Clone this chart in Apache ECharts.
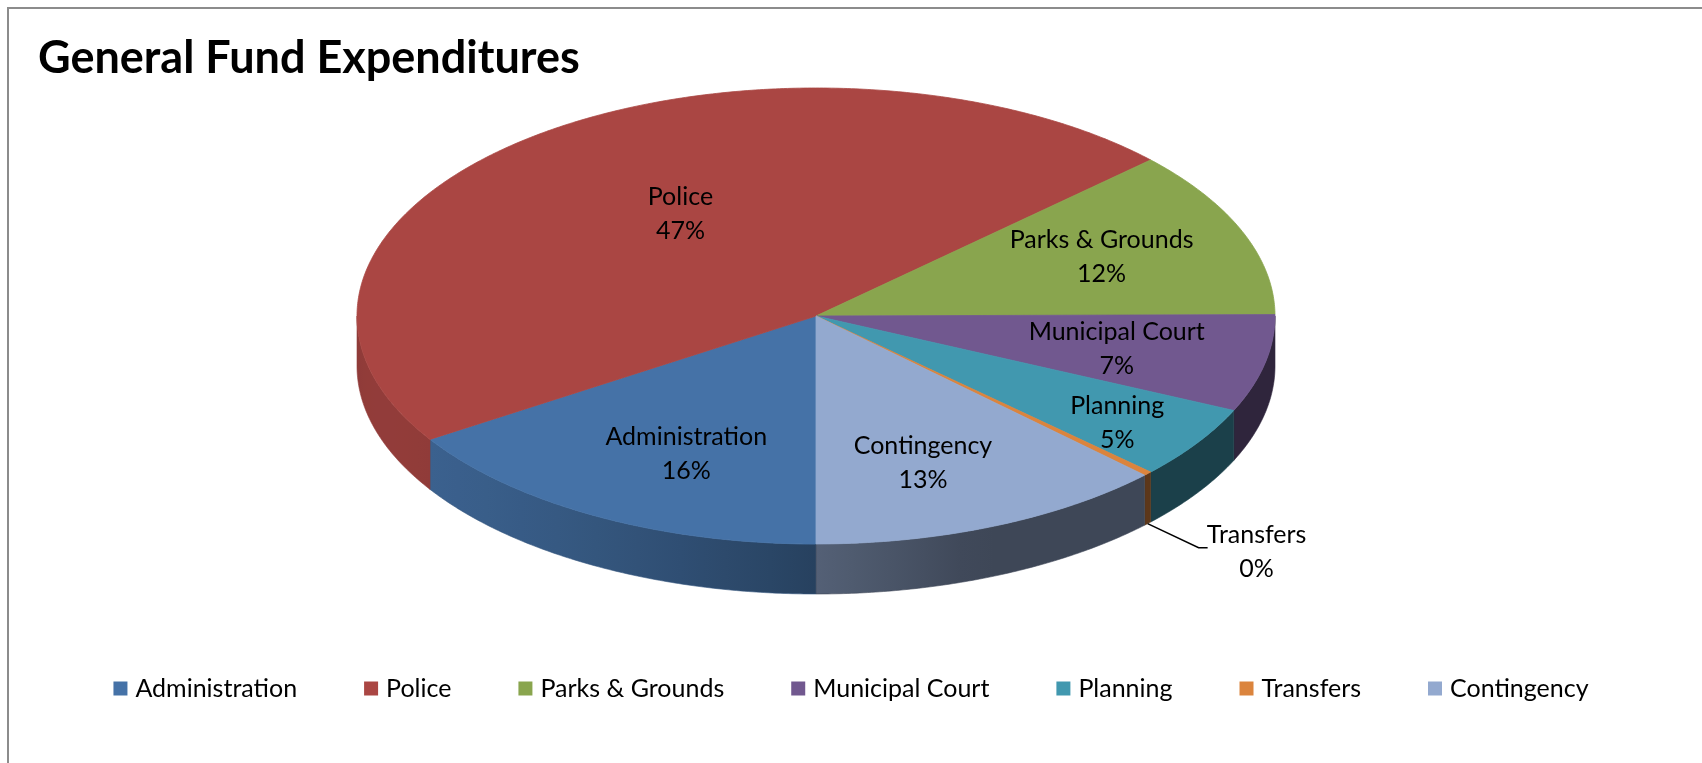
<!DOCTYPE html>
<html>
<head>
<meta charset="utf-8">
<script src="https://cdn.jsdelivr.net/npm/echarts@6/dist/echarts.min.js"></script>
<style>html,body{margin:0;padding:0;background:#fff}#c{width:1702px;height:763px}</style>
</head>
<body>
<div id="c"></div>
<script>
// ---- data ----
const titleText = 'General Fund Expenditures';
const categories = ['Administration', 'Police', 'Parks & Grounds', 'Municipal Court', 'Planning', 'Transfers', 'Contingency'];
const values = [15.9, 47.1, 11.9, 6.9, 5.2, 0.3, 12.7];
const colors = ['#4572A7', '#AA4643', '#89A54E', '#71588F', '#4198AF', '#DB843D', '#93A9CF'];

// ---- layout / style (not data) ----
const G = { cx: 816, cy: 316, rx: 459, ry: 228, depth: 50 };
const START = 180;                       // first slice angle, degrees clockwise from 12 o'clock
const labelAnchor = { 'Police': [0.48, 0.57], 'Planning': [0.79, 0.84], 'Administration': [0.59, 0.69], 'Contingency': [0.6, 0.7] };
const DEFAULT_ANCHOR = [0.67, 0.70];
const LABEL_FONT = '25px Lato';

const total = values.reduce((a, b) => a + b, 0);
const cum = []; { let s = 0; values.forEach(v => { cum.push(s); s += v; }); }

function pt(theta, dy) {
  const t = theta * Math.PI / 180;
  return [G.cx + G.rx * Math.sin(t), G.cy - G.ry * Math.cos(t) + (dy || 0)];
}
function arc(a, b, dy) {
  const n = Math.max(2, Math.ceil(Math.abs(b - a) / 0.5));
  const out = [];
  for (let k = 0; k <= n; k++) out.push(pt(a + (b - a) * k / n, dy));
  return out;
}
function shade(hex, f) {
  const r = parseInt(hex.slice(1, 3), 16), g = parseInt(hex.slice(3, 5), 16), b = parseInt(hex.slice(5, 7), 16);
  return 'rgb(' + Math.round(r * f) + ',' + Math.round(g * f) + ',' + Math.round(b * f) + ')';
}
function light(theta) {
  return 0.42 + 0.44 * Math.max(0, Math.cos((theta - 250) * Math.PI / 180));
}

function makeRender(i) {
  return function (params, api) {
    const v = api.value(0);
    const a = START + cum[i] / total * 360;
    const b = a + v / total * 360;
    const base = colors[i];
    const children = [];
    // front walls
    for (let k = 0; k <= 1; k++) {
      const lo = Math.max(a, 90 + 360 * k), hi = Math.min(b, 270 + 360 * k);
      if (hi > lo) {
        const top = arc(lo, hi, 0);
        const bot = arc(lo, hi, G.depth).reverse();
        const x0 = pt(lo)[0], x1 = pt(hi)[0];
        const stops = [];
        const n = 10;
        for (let j = 0; j <= n; j++) {
          const th = lo + (hi - lo) * j / n;
          const x = pt(th)[0];
          const off = Math.abs(x1 - x0) < 0.01 ? j / n : (x - x0) / (x1 - x0);
          stops.push({ offset: Math.min(1, Math.max(0, off)), color: shade(base, light(th)) });
        }
        children.push({
          type: 'polygon',
          shape: { points: top.concat(bot) },
          style: {
            fill: { type: 'linear', x: x0, y: 0, x2: Math.abs(x1 - x0) < 0.01 ? x0 + 1 : x1, y2: 0, global: true, colorStops: stops },
            stroke: shade(base, light((lo + hi) / 2)), lineWidth: 0.6
          }
        });
      }
    }
    // top face
    children.push({
      type: 'polygon',
      shape: { points: [[G.cx, G.cy]].concat(arc(a, b, 0)) },
      style: { fill: base, stroke: base, lineWidth: 0.8, lineJoin: 'round' }
    });
    // label
    const mid = (a + b) / 2;
    const pctText = Math.round(v / total * 100) + '%';
    const name = categories[i];
    if (v / total * 100 >= 1) {
      const an = labelAnchor[name] || DEFAULT_ANCHOR;
      const p = [G.cx + an[0] * G.rx * Math.sin(mid * Math.PI / 180), G.cy - an[1] * G.ry * Math.cos(mid * Math.PI / 180)];
      children.push({
        type: 'text', x: p[0], y: p[1], z2: 10,
        style: { text: name + '\n' + pctText, font: LABEL_FONT, fill: '#000', align: 'center', verticalAlign: 'middle', lineHeight: 34 }
      });
    } else {
      const s = pt(mid, G.depth);
      const e1 = [s[0] + 51, s[1] + 24], e2 = [s[0] + 60, s[1] + 24];
      children.push({ type: 'polyline', shape: { points: [s, e1, e2] }, style: { stroke: '#000', lineWidth: 1.5, fill: null } });
      children.push({
        type: 'text', x: e2[0] + 49, y: e2[1] + 4, z2: 10,
        style: { text: name + '\n' + pctText, font: LABEL_FONT, fill: '#000', align: 'center', verticalAlign: 'middle', lineHeight: 34 }
      });
    }
    return { type: 'group', children: children };
  };
}

const chart = echarts.init(document.getElementById('c'), null, { renderer: 'canvas' });
chart.setOption({
  animation: false,
  backgroundColor: '#fff',
  graphic: [
    { type: 'rect', shape: { x: 8, y: 8, width: 1800, height: 900 }, style: { fill: 'none', stroke: '#8c8c8c', lineWidth: 2 }, silent: true },
    { type: 'text', left: 38, top: 36, style: { text: titleText, font: 'bold 45px Lato', fill: '#000' } }
  ],
  legend: {
    data: categories,
    left: 'center',
    top: 671,
    icon: 'rect',
    itemWidth: 14,
    itemHeight: 14,
    itemGap: 67,
    textStyle: { fontFamily: 'Lato', fontSize: 25, color: '#000', padding: [0, 0, 0, 3] },
    selectedMode: false
  },
  series: categories.map((name, i) => ({
    type: 'custom',
    name: name,
    coordinateSystem: 'none',
    silent: true,
    itemStyle: { color: colors[i] },
    data: [values[i]],
    renderItem: makeRender(i)
  }))
});
</script>
</body>
</html>
